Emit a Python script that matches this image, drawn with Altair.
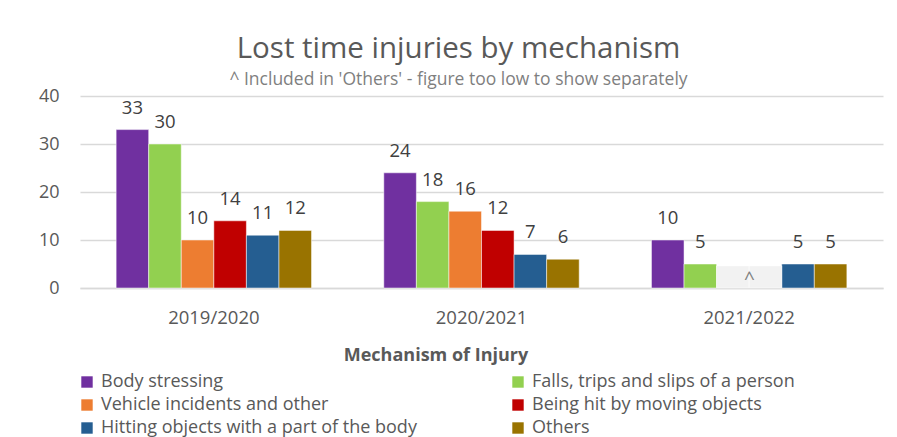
import altair as alt
import pandas as pd

periods = ["2019/2020", "2020/2021", "2021/2022"]
series = [
    "Body stressing",
    "Falls, trips and slips of a person",
    "Vehicle incidents and other",
    "Being hit by moving objects",
    "Hitting objects with a part of the body",
    "Others",
]
colors = ["#7030a0", "#92d050", "#ed7d31", "#c00000", "#255e91", "#997300"]

body_stressing = [33, 24, 10]
falls = [30, 18, 5]
vehicle = [10, 16, None]
hit_by = [14, 12, None]
hitting = [11, 7, 5]
others = [12, 6, 5]

placeholder_period = "2021/2022"
placeholder_series = ["Vehicle incidents and other", "Being hit by moving objects"]
placeholder_value = 4.6
placeholder_label = "^"

values_by_series = [body_stressing, falls, vehicle, hit_by, hitting, others]
rows = []
for s, vals in zip(series, values_by_series):
    for p, v in zip(periods, vals):
        if v is not None:
            rows.append({"period": p, "series": s, "value": v})
df = pd.DataFrame(rows)

ph = pd.DataFrame({"period": [placeholder_period] * len(placeholder_series),
                   "series": placeholder_series,
                   "value": [placeholder_value] * len(placeholder_series)})
ph_label = pd.DataFrame({"period": [placeholder_period], "series": [placeholder_series[0]],
                         "value": [placeholder_value / 2], "label": [placeholder_label]})

FONT = "Open Sans"

x_enc = alt.X("period:N", sort=periods,
              scale=alt.Scale(domain=periods, paddingInner=0.27, paddingOuter=0.135),
              axis=alt.Axis(title=None, labelAngle=0, labelFontSize=18.5, labelColor="#595959",
                            labelPadding=20, ticks=False, domain=True, domainColor="#d9d9d9",
                            domainWidth=1.3, labelFont=FONT))
xo_enc = alt.XOffset("series:N", scale=alt.Scale(domain=series, paddingInner=0, paddingOuter=0))
y_enc = alt.Y("value:Q", scale=alt.Scale(domain=[0, 40]),
              axis=alt.Axis(title=None, values=[0, 10, 20, 30, 40], labelFontSize=18,
                            labelColor="#595959", labelPadding=21, ticks=False, domain=False,
                            grid=True, gridColor="#d9d9d9", gridWidth=1.3, labelFont=FONT))

bars = alt.Chart(df).mark_bar(stroke="white", strokeWidth=0.5).encode(
    x=x_enc, xOffset=xo_enc, y=y_enc,
    color=alt.Color("series:N", scale=alt.Scale(domain=series, range=colors),
                    legend=alt.Legend(
                        title="Mechanism of Injury", orient="none", legendX=-2, legendY=251,
                        direction="horizontal",
                        columns=2, columnPadding=92, rowPadding=5, gridAlign="all",
                        titleAnchor="middle", titleFontSize=18, titleFont=FONT, titleFontWeight="bold",
                        titleColor="#595959", titlePadding=8, titleLimit=500,
                        labelFontSize=18, labelFont=FONT, labelColor="#595959", labelLimit=500,
                        symbolType="square", symbolSize=130, symbolStrokeWidth=0, labelOffset=5)),
)

labels = alt.Chart(df).mark_text(baseline="alphabetic", dy=-16, fontSize=18.5, font=FONT,
                                 color="#404040").encode(
    x=alt.X("period:N", sort=periods), xOffset=alt.XOffset("series:N"),
    y="value:Q", text=alt.Text("value:Q"))

ph_bars = alt.Chart(ph).mark_bar(color="#f2f2f2", stroke="white", strokeWidth=0.5).encode(
    x=alt.X("period:N", sort=periods), xOffset=alt.XOffset("series:N"), y="value:Q")

ph_text = alt.Chart(ph_label).mark_text(baseline="middle", dx=16.5, dy=2, fontSize=19, font=FONT,
                                        color="#7f7f7f").encode(
    x=alt.X("period:N", sort=periods), xOffset=alt.XOffset("series:N"),
    y="value:Q", text="label:N")

chart = alt.layer(bars, ph_bars, labels, ph_text).properties(
    width=803, height=192,
    background="white",
    autosize=alt.AutoSizeParams(type="none"),
    padding={"left": 72, "top": 88, "right": 6, "bottom": 160},
    title=alt.TitleParams(
        text="Lost time injuries by mechanism",
        subtitle="^ Included in 'Others' - figure too low to show separately",
        fontSize=29.5, font=FONT, fontWeight="normal", color="#595959",
        subtitleFontSize=17.5, subtitleFont=FONT, subtitleColor="#7f7f7f",
        anchor="middle", dx=-23, offset=-2, subtitlePadding=6),
).configure_view(stroke=None)

chart.save("out.html", embed_options={"renderer": "svg", "actions": False})
